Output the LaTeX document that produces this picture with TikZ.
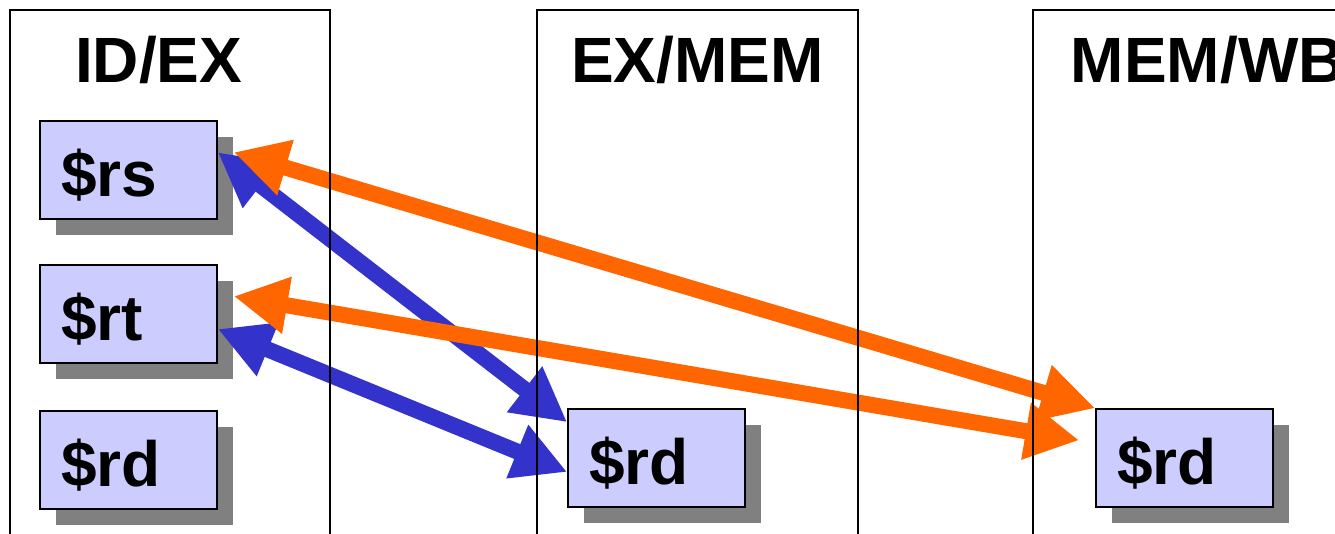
\documentclass[tikz,border=0pt]{standalone}
\usepackage{fontspec}
\setmainfont{Liberation Sans}
\usepackage{tikz}
\usetikzlibrary{arrows.meta, positioning, shadows}
\definecolor{regfill}{RGB}{204,204,255}
\definecolor{shadowgray}{RGB}{128,128,128}
\definecolor{fwdblue}{RGB}{51,51,204}
\definecolor{fwdorange}{RGB}{255,102,0}
\pgfdeclarelayer{front}
\pgfsetlayers{main,front}

\begin{document}
\begin{tikzpicture}[x=1pt, y=-1pt,
    stage/.style={rectangle, draw=black, line width=1.5pt, minimum width=320pt, minimum height=600pt, anchor=north west, inner sep=0pt},
    title/.style={font=\fontsize{64}{70}\selectfont\bfseries, anchor=base},
    reg/.style={rectangle, draw=black, line width=1.5pt, fill=regfill, minimum width=177pt, minimum height=98pt, text width=135pt, text height=52pt, text depth=0pt, inner xsep=21pt, align=left, font=\fontsize{64}{70}\selectfont\bfseries, drop shadow={shadow xshift=16pt, shadow yshift=-16pt, fill=shadowgray, opacity=1}},
    fwdb/.style={{Triangle[length=54pt,width=54pt]}-{Triangle[length=54pt,width=54pt]}, line width=16pt, fwdblue},
    fwdo/.style={{Triangle[length=54pt,width=54pt]}-{Triangle[length=54pt,width=54pt]}, line width=16pt, fwdorange}
]
\useasboundingbox (0,0) rectangle (1335,533);

% pipeline registers
\node[reg] (rs) at (128.5,170) {\$rs};
\node[reg, below=44.5pt of rs] (rt) {\$rt};
\node[reg, below=46.5pt of rt] (rd) {\$rd};
\node[reg] (exrd) at (656.5,458) {\$rd};
\node[reg, right=349.5pt of exrd] (wbrd) {\$rd};

% forwarding paths
\draw[fwdb] ([yshift=-32pt]rs.north east) -- ([yshift=-14pt]exrd.north west);
\draw[fwdb] ([yshift=-15pt]rt.east) -- ([yshift=-14pt]exrd.west);
\draw[fwdo] ([shift={(16pt,-32pt)}]rs.north east) -- (wbrd.north west);
\draw[fwdo] ([shift={(16pt,-32pt)}]rt.north east) -- ([shift={(-16pt,-32pt)}]wbrd.north west);

% stage frames on top
\begin{pgfonlayer}{front}
\node[stage] (idex) at (9,9) {};
\node[stage, minimum width=321pt] (exmem) at (536,9) {};
\node[stage] (memwb) at (1032,9) {};
\node[title, xshift=-11pt] (idexname) at ([yshift=-73pt]idex.north) {ID/EX};
\node[title] (exmemname) at ([yshift=-73pt]exmem.north) {EX/MEM};
\node[title, xshift=15pt] (memwbname) at ([yshift=-73pt]memwb.north) {MEM/WB};
\end{pgfonlayer}
\end{tikzpicture}
\end{document}
